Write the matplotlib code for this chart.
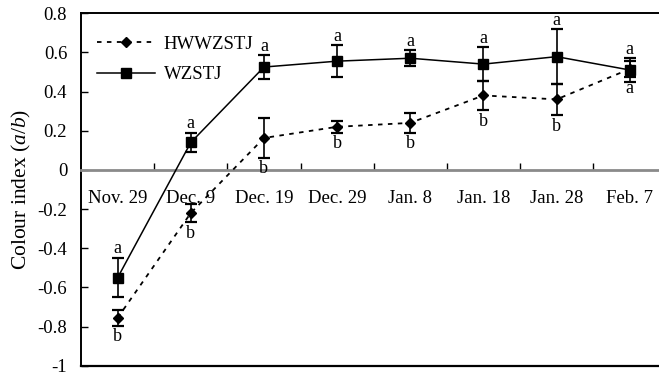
import matplotlib
matplotlib.use("Agg")
import matplotlib.pyplot as plt
import numpy as np

plt.rcParams['font.family'] = ['Liberation Serif', 'DejaVu Serif']
plt.rcParams['mathtext.fontset'] = 'custom'
plt.rcParams['mathtext.rm'] = 'Liberation Serif'
plt.rcParams['mathtext.it'] = 'Liberation Serif:italic'

# fechas de muestreo
fechas = ['Nov. 29', 'Dec. 9', 'Dec. 19', 'Dec. 29', 'Jan. 8', 'Jan. 18', 'Jan. 28', 'Feb. 7']

# indice de color (a/b) y desvio
wzstj = [-0.55, 0.14, 0.525, 0.555, 0.57, 0.54, 0.578, 0.51]
wzstj_err = [0.10, 0.05, 0.06, 0.08, 0.04, 0.085, 0.14, 0.06]
hw = [-0.755, -0.22, 0.163, 0.22, 0.24, 0.38, 0.36, 0.515]
hw_err = [0.04, 0.045, 0.10, 0.03, 0.05, 0.075, 0.08, 0.04]

# letras de significancia
letras_wzstj = ['a', 'a', 'a', 'a', 'a', 'a', 'a', 'a']
letras_hw = ['b', 'b', 'b', 'b', 'b', 'b', 'b', 'a']

yticks = [0.8, 0.6, 0.4, 0.2, 0, -0.2, -0.4, -0.6, -0.8, -1]
ytick_labels = ['0.8', '0.6', '0.4', '0.2', '0', '-0.2', '-0.4', '-0.6', '-0.8', '-1']

fs = 13.5

fig = plt.figure(figsize=(6.59, 3.76), dpi=100)
ax = fig.add_axes([0.123, 0.027, 0.877, 0.938])

x = np.arange(len(fechas))

eb_hw = ax.errorbar(x, hw, yerr=hw_err, color='black', marker='D', ms=5.5,
                    linestyle=(0, (2.5, 3)), lw=1.3, capsize=4.5, capthick=1.6,
                    elinewidth=1.2, zorder=3)
eb_wz = ax.errorbar(x, wzstj, yerr=wzstj_err, color='black', marker='s', ms=7.5,
                    linestyle='-', lw=1.1, capsize=4.5, capthick=1.6,
                    elinewidth=1.2, zorder=4)

for i in range(len(fechas)):
    ax.annotate(letras_wzstj[i], (x[i], wzstj[i] + wzstj_err[i]),
                xytext=(0, 0.5), textcoords='offset points',
                ha='center', va='bottom', fontsize=13)
    ax.annotate(letras_hw[i], (x[i], hw[i] - hw_err[i]),
                xytext=(0, -2), textcoords='offset points',
                ha='center', va='top', fontsize=13)

ax.set_xlim(-0.5, 7.4)
ax.set_ylim(-1, 0.8)

# eje x sobre el cero
ax.spines['bottom'].set_position(('data', 0))
ax.spines['bottom'].set_color('#8a8a8a')
ax.spines['bottom'].set_linewidth(2)
ax.spines['right'].set_visible(False)
ax.axhline(-1, color='black', lw=1.6, clip_on=False)
ax.spines['top'].set_linewidth(1.4)
ax.spines['left'].set_linewidth(1.4)

ax.set_xticks(x[:-1] + 0.5)
ax.set_xticklabels([])
ax.set_xticks(x, minor=True)
ax.set_xticklabels(fechas, minor=True, fontsize=fs)
ax.tick_params(axis='x', which='major', direction='in', length=5, width=1,
               color='black')
ax.tick_params(axis='x', which='minor', length=0, pad=14.5)

ax.set_yticks(yticks)
ax.set_yticklabels(ytick_labels, fontsize=fs)
ax.tick_params(axis='y', direction='in', length=5, width=1, pad=10)

ax.set_ylabel('Colour index ($\\mathit{a/b}$)', fontsize=15.5, labelpad=3)

# leyenda solo con linea y marcador (sin barras de error)
ax.legend([eb_hw[0], eb_wz[0]], ['HWWZSTJ', 'WZSTJ'],
          loc='upper left', bbox_to_anchor=(0.028, 0.937), frameon=False,
          borderaxespad=0, borderpad=0, handlelength=3.1, handletextpad=0.45,
          labelspacing=0.72, fontsize=fs)

fig.savefig('out.png', dpi=100)
